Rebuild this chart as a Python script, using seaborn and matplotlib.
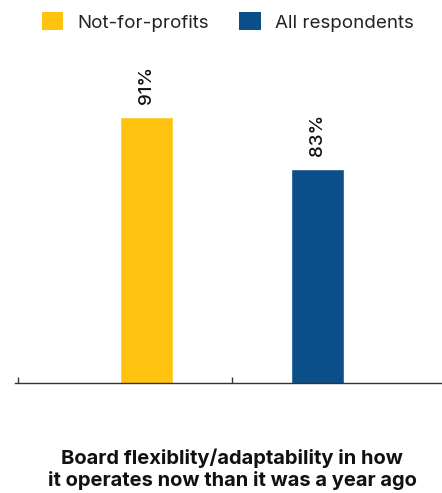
import matplotlib
matplotlib.use("Agg")
import matplotlib.pyplot as plt
import seaborn as sns
import pandas as pd
from matplotlib.patches import Patch

categories = ["Board flexiblity/adaptability"]
series = ["Not-for-profits", "All respondents"]
values = [91, 83]
labels = ["91%", "83%"]
colors = ["#FFC20F", "#0A4F8A"]
title = "Board flexiblity/adaptability in how\nit operates now than it was a year ago"

sns.set_style("white")
plt.rcParams["font.family"] = ["Inter", "DejaVu Sans"]

df = pd.DataFrame({"cat": categories * len(series), "series": series, "value": values})

fig = plt.figure(figsize=(4.42, 4.93), dpi=100)
ax = fig.add_axes([15 / 442, 110 / 493, 1 - 15 / 442, 324.5 / 493])

sns.barplot(data=df, x="cat", y="value", hue="series", palette=colors,
            width=0.8, gap=0.69, ax=ax, legend=False, saturation=1)

for cont, lab in zip(ax.containers, labels):
    ax.bar_label(cont, labels=[lab], rotation=90, padding=9, fontsize=13.5,
                 fontweight="medium", color="#111111")

ax.set_ylim(50, 100)
ax.set_xlim(-0.506, 0.49)
ax.set_xticks([-0.5, 0])
ax.set_xticklabels([])
ax.set_yticks([])
ax.set_xlabel("")
ax.set_ylabel("")
for s in ["top", "right", "left"]:
    ax.spines[s].set_visible(False)
ax.spines["bottom"].set_color("#333333")
ax.spines["bottom"].set_linewidth(1.0)
ax.tick_params(axis="x", bottom=True, length=4, width=1, color="#333333", direction="in")

handles = [Patch(facecolor=c, edgecolor="none") for c in colors]
fig.legend(handles, series, loc="upper left", bbox_to_anchor=(25 / 442, 1 + 5 / 493), ncol=2,
           frameon=False, fontsize=13.5, handlelength=1.15, handleheight=1.15,
           handletextpad=0.75, columnspacing=1.6, labelcolor="#222222")

fig.text(232 / 442, 3 / 493, title, ha="center", va="bottom", fontsize=14.5,
         fontweight="bold", color="#111111", linespacing=1.2)

fig.savefig("out.png", dpi=100)
